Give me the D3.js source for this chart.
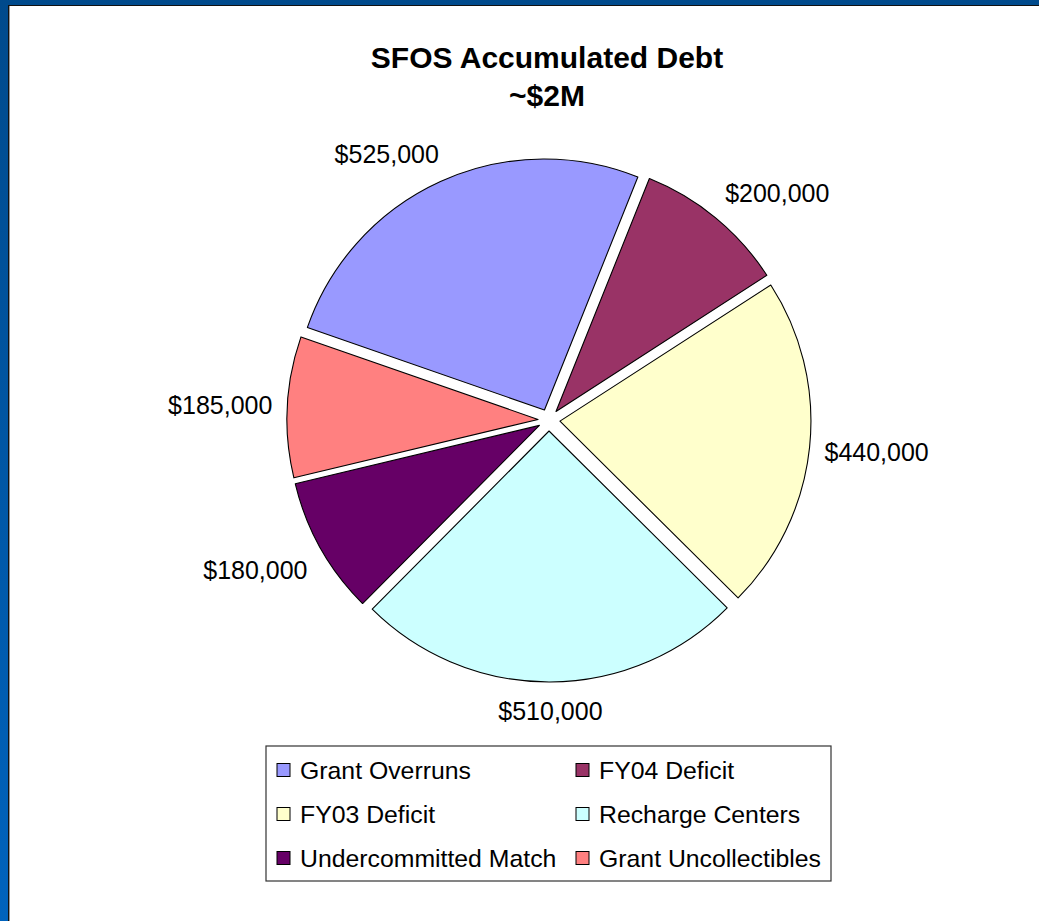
<!DOCTYPE html>
<html>
<head>
<meta charset="utf-8">
<script src="https://cdn.jsdelivr.net/npm/d3@7"></script>
<style>
  body { margin: 0; overflow: hidden; }
  svg { display: block; font-family: "Liberation Sans", Arial, sans-serif; }
</style>
</head>
<body>
<svg id="chart" width="1039" height="921"></svg>
<script>
// chart data
const categories = ["Grant Overruns", "FY04 Deficit", "FY03 Deficit", "Recharge Centers", "Undercommitted Match", "Grant Uncollectibles"];
const values = [525000, 200000, 440000, 510000, 180000, 185000];
const sliceColors = ["#9999FF", "#993366", "#FFFFCC", "#CCFFFF", "#660066", "#FF8080"];
const titleLines = ["SFOS Accumulated Debt", "~$2M"];

const svg = d3.select("#chart");
const W = +svg.attr("width"), H = +svg.attr("height");

// slide frame: blue gradient on the edges, white page
const defs = svg.append("defs");
const grad = defs.append("linearGradient")
  .attr("id", "frame").attr("x1", 0).attr("y1", 0).attr("x2", 0).attr("y2", 1);
grad.append("stop").attr("offset", "0%").attr("stop-color", "#004A8C");
grad.append("stop").attr("offset", "100%").attr("stop-color", "#0063BD");

svg.append("rect").attr("width", W).attr("height", H).attr("fill", "url(#frame)");
svg.append("rect").attr("x", 8).attr("y", 5).attr("width", W).attr("height", H).attr("fill", "#111");
svg.append("rect").attr("x", 9).attr("y", 6).attr("width", W).attr("height", H).attr("fill", "#999");
svg.append("rect").attr("x", 10).attr("y", 6).attr("width", W).attr("height", H).attr("fill", "#fff");

// title
svg.append("text")
  .attr("text-anchor", "middle")
  .attr("font-weight", "bold")
  .attr("font-size", 30)
  .selectAll("tspan")
  .data(titleLines)
  .join("tspan")
  .attr("x", 547)
  .attr("y", (d, i) => 68 + i * 38)
  .text((d) => d);

// pie
const cx = 549, cy = 420, radius = 251, explode = 11, labelR = 277;
const start = -70.8 * Math.PI / 180;

const color = d3.scaleOrdinal().domain(categories).range(sliceColors);

const pie = d3.pie()
  .sort(null)
  .value((d) => d.value)
  .startAngle(start)
  .endAngle(start + 2 * Math.PI);

const arc = d3.arc().innerRadius(0).outerRadius(radius);

const data = categories.map((c, i) => ({ name: c, value: values[i] }));
const arcs = pie(data);

const mid = (d) => (d.startAngle + d.endAngle) / 2;

const g = svg.append("g").attr("transform", `translate(${cx},${cy})`);

g.selectAll("path")
  .data(arcs)
  .join("path")
  .attr("transform", (d) => `translate(${Math.sin(mid(d)) * explode},${-Math.cos(mid(d)) * explode})`)
  .attr("d", arc)
  .attr("fill", (d) => color(d.data.name))
  .attr("stroke", "#000")
  .attr("stroke-width", 1.1)
  .attr("stroke-linejoin", "round");

// value labels: the box corner nearest the pie sits on a circle
const fmt = d3.format("$,");
const clamp = (t) => Math.max(-1, Math.min(1, t * 2.2));
const labels = g.selectAll("text.val")
  .data(arcs)
  .join("text")
  .attr("class", "val")
  .attr("font-size", 25)
  .attr("text-anchor", "middle")
  .attr("dy", "0.38em")
  .text((d) => fmt(d.data.value));

labels.each(function (d) {
  const b = this.getBBox();
  const a = mid(d);
  const s = Math.sin(a), c = -Math.cos(a);
  const x = s * labelR + clamp(s) * b.width / 2;
  const y = c * labelR + clamp(c) * b.height / 2;
  d3.select(this).attr("x", x).attr("y", y);
});

// legend
const legX = 266, legY = 746, legW = 565, legH = 135;
const leg = svg.append("g");
leg.append("rect")
  .attr("x", legX).attr("y", legY)
  .attr("width", legW).attr("height", legH)
  .attr("fill", "#fff")
  .attr("stroke", "#333")
  .attr("stroke-width", 1.2);

const colX = d3.scalePoint().domain([0, 1]).range([277, 576]);
const rowY = d3.scalePoint().domain([0, 1, 2]).range([770, 858]);

const item = leg.selectAll("g.item")
  .data(categories)
  .join("g")
  .attr("class", "item")
  .attr("transform", (d, i) => `translate(${colX(i % 2)},${rowY(Math.floor(i / 2))})`);

item.append("rect")
  .attr("x", 0).attr("y", -6.5)
  .attr("width", 13).attr("height", 13)
  .attr("fill", (d) => color(d))
  .attr("stroke", "#000")
  .attr("stroke-width", 1);

item.append("text")
  .attr("x", 23)
  .attr("dy", "0.36em")
  .attr("font-size", 24.8)
  .text((d) => d);
</script>
</body>
</html>
